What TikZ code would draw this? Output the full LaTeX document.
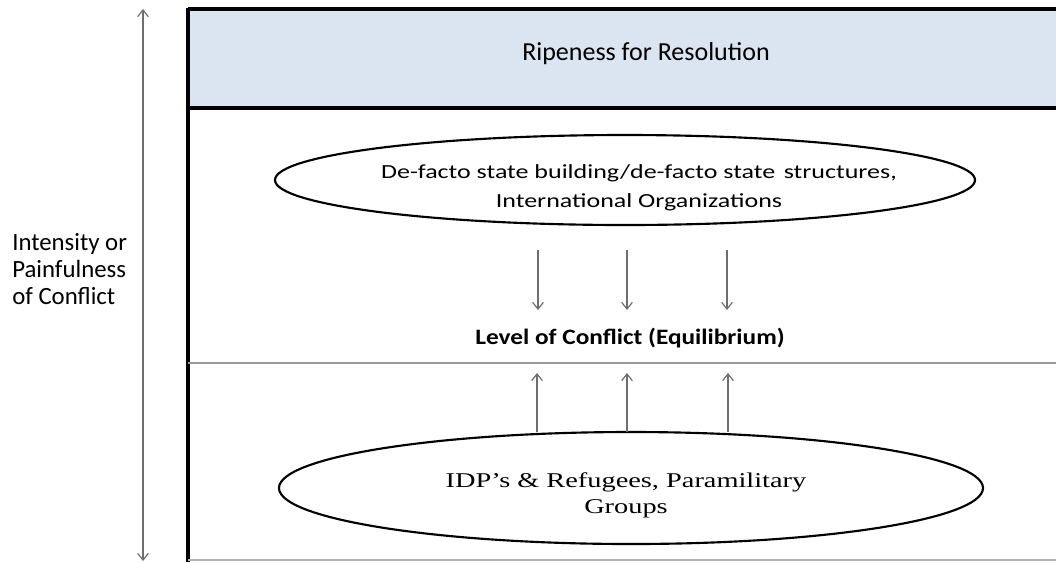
\documentclass[tikz,border=0pt]{standalone}
\usepackage{fontspec}
\usetikzlibrary{arrows.meta}
\newfontfamily\calfont{Carlito}
\newfontfamily\ellfont[FakeStretch=1.3]{Carlito}
\newfontfamily\lvlfont[FakeStretch=1.15]{Carlito}
\newfontfamily\tmsfont[FakeStretch=1.35]{Liberation Serif}
\definecolor{bandblue}{HTML}{DBE5F1}
\definecolor{arrgray}{HTML}{6E6E6E}
\begin{document}
\begin{tikzpicture}[x=0.75pt,y=-0.75pt,
  flow/.style={draw=arrgray,line width=0.9pt,-{Straight Barb[length=5pt,width=8pt,line width=0.9pt]}},
  lbl/.style={inner sep=0pt,align=center}]
\useasboundingbox (0,0) rectangle (1056,562);
% band
\fill[bandblue] (188,9) rectangle (1056,108);
\draw[line width=2.6pt] (188,9) -- (1056,9);
\draw[line width=2.6pt] (188,108) -- (1056,108);
\draw[line width=2.4pt] (188,7.5) -- (188,562);
\draw[gray!80,line width=1.3pt] (188,363) -- (1056,363);
\draw[gray!60,line width=1.2pt] (188,560) -- (1056,560);
\node[lbl,anchor=base,font=\calfont\fontsize{19.5pt}{23pt}\selectfont] (ripe) at (646,60) {Ripeness for Resolution};
% left axis
\node[lbl,align=left,anchor=base west,font=\calfont\fontsize{18.6pt}{20.25pt}\selectfont] (axis) at (12,304) {Intensity or\\Painfulness\\of Conflict};
\coordinate (atop) at (143,9);
\coordinate (abot) at (143,561);
\draw[draw=arrgray,line width=0.9pt,{Straight Barb[length=5pt,width=8pt,line width=0.9pt]}-{Straight Barb[length=5pt,width=8pt,line width=0.9pt]}] (abot) -- (atop);
% ellipses
\draw[line width=1.6pt] (625,180) ellipse [x radius=350, y radius=45];
\node[lbl,anchor=base,font=\ellfont\fontsize{15pt}{21.75pt}\selectfont] (top) at (639,207) {De-facto state building/de-facto state\hspace{2pt} structures,\\International Organizations};
\draw[line width=1.6pt] (631,488) ellipse [x radius=352, y radius=56];
\node[lbl,anchor=base,font=\tmsfont\fontsize{15.75pt}{19.5pt}\selectfont] (bot) at (626,513) {IDP’s \& Refugees, Paramilitary\\Groups};
\node[lbl,anchor=base,font=\lvlfont\bfseries\fontsize{16.5pt}{20pt}\selectfont] (lvl) at (630,344) {Level of Conflict (Equilibrium)};
% arrows
\foreach \i/\x in {1/538,2/627,3/727}{
  \coordinate (d\i s) at (\x,250);
  \coordinate (d\i e) at (\x,310);
  \draw[flow] (d\i s) -- (d\i e);
}
\foreach \i/\x in {1/537,2/627,3/728}{
  \coordinate (u\i s) at (\x,432);
  \coordinate (u\i e) at (\x,373);
  \draw[flow] (u\i s) -- (u\i e);
}
\end{tikzpicture}
\end{document}
